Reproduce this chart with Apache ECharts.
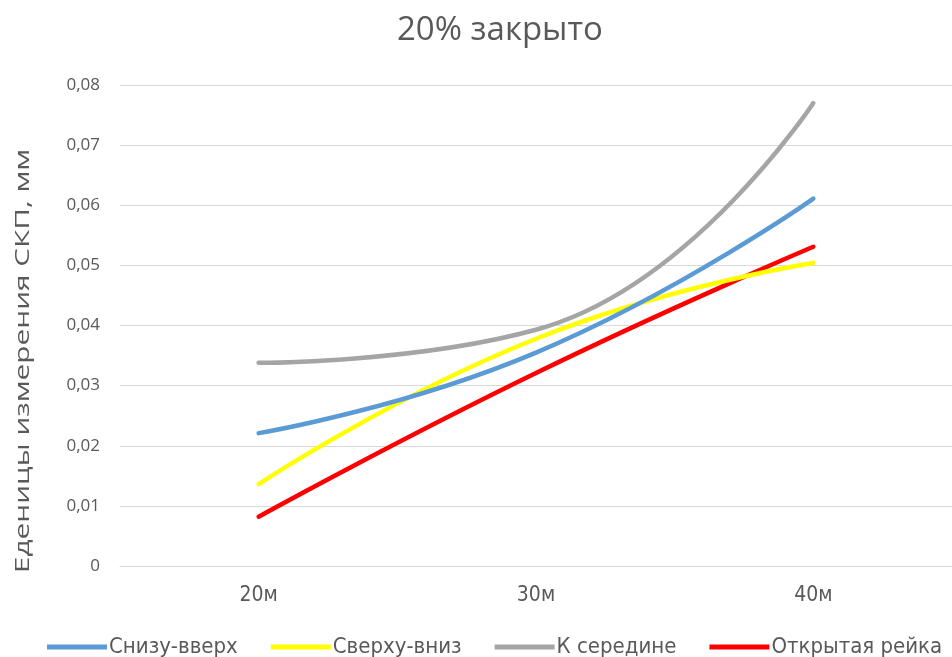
<!DOCTYPE html>
<html>
<head>
<meta charset="utf-8">
<script src="https://cdn.jsdelivr.net/npm/echarts@6/dist/echarts.min.js"></script>
<style>
  html, body { margin: 0; padding: 0; background: #fff; }
  #chart { width: 952px; height: 657px; }
</style>
</head>
<body>
<div id="chart"></div>
<script>
// Distances along the rod
const categories = ['20м', '30м', '40м'];

// RMS error per reading order
const seriesNames = ['Снизу-вверх', 'Сверху-вниз', 'К середине', 'Открытая рейка'];
const bottomUp   = [0.0221, 0.0355, 0.0611];
const topDown    = [0.0136, 0.0378, 0.0504];
const toMiddle   = [0.0338, 0.0393, 0.0770];
const openRod    = [0.0082, 0.0321, 0.0531];

const yTicks = { min: 0, max: 0.08, interval: 0.01 };
const yAxisTitle = 'Еденицы измерения СКП, мм';

const colors = ['#5B9BD5', '#FFFF00', '#A5A5A5', '#FF0000'];
const values = [bottomUp, topDown, toMiddle, openRod];
const narrow = 'Liberation Sans Narrow, DejaVu Sans Condensed, sans-serif';

const chart = echarts.init(document.getElementById('chart'), null, { renderer: 'canvas' });

chart.setOption({
  animation: false,
  backgroundColor: '#ffffff',
  title: {
    text: '20% закрыто',
    left: 392,
    top: 9,
    textStyle: { fontFamily: 'Open Sans', fontSize: 33, fontWeight: 'normal', color: '#595959' }
  },
  legend: {
    data: seriesNames,
    top: 631,
    left: 42,
    width: 1400,
    itemWidth: 60,
    itemHeight: 5,
    itemGap: 33,
    icon: 'rect',
    textStyle: { fontFamily: narrow, fontSize: 22, color: '#595959', padding: [0, 0, 0, -3] }
  },
  grid: { left: 120, right: -10, top: 85, bottom: 91, containLabel: false },
  xAxis: {
    type: 'category',
    data: categories,
    boundaryGap: true,
    axisLine: { show: true, lineStyle: { color: '#d9d9d9', width: 1 } },
    axisTick: { show: false },
    axisLabel: { margin: 19, fontFamily: narrow, fontSize: 21, color: '#595959' }
  },
  yAxis: {
    type: 'value',
    min: yTicks.min,
    max: yTicks.max,
    interval: yTicks.interval,
    axisLine: { show: false },
    axisTick: { show: false },
    splitLine: { lineStyle: { color: '#d9d9d9', width: 1 } },
    axisLabel: {
      margin: 20,
      fontFamily: 'Open Sans',
      fontSize: 17,
      color: '#595959',
      formatter: v => (v === 0 ? '0' : v.toFixed(2).replace('.', ','))
    }
  },
  // Vertical axis title, drawn stretched along its length
  graphic: [{
    type: 'text',
    x: 23,
    y: 361,
    rotation: Math.PI / 2,
    scaleX: 1.49,
    style: {
      text: yAxisTitle,
      font: '20px "Open Sans"',
      fill: '#595959',
      align: 'center',
      verticalAlign: 'middle'
    }
  }],
  series: seriesNames.map((name, i) => ({
    name,
    type: 'line',
    data: values[i],
    smooth: 0.5,
    symbol: 'none',
    lineStyle: { color: colors[i], width: 4.5, cap: 'round' },
    itemStyle: { color: colors[i] },
    z: 10 - i
  }))
});
</script>
</body>
</html>
